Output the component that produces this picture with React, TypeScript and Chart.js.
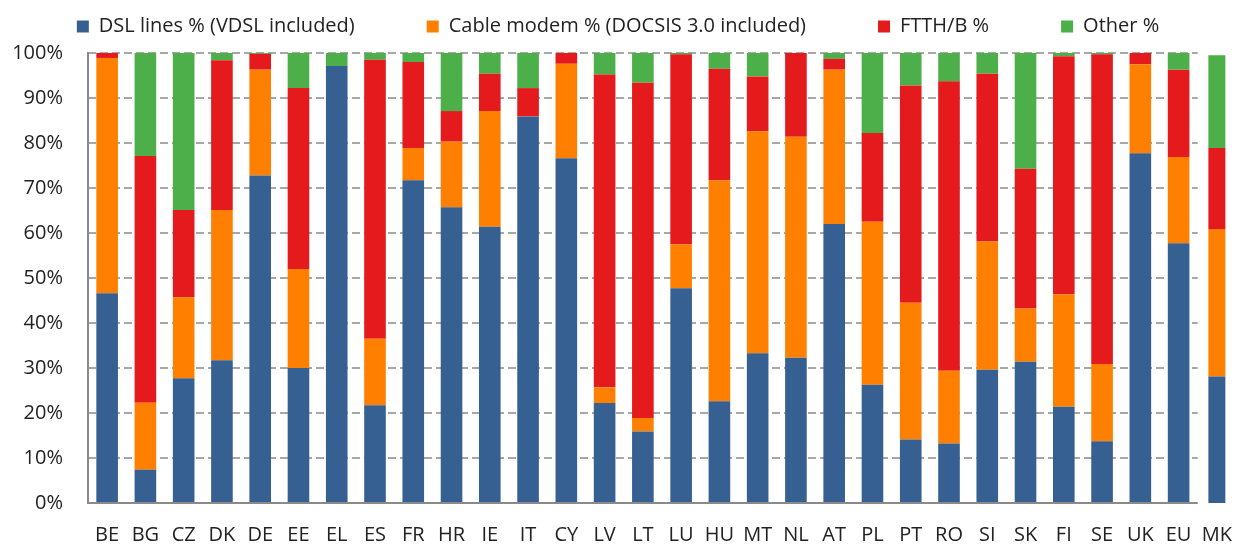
import React, { useEffect, useRef } from "react";
import { Chart, registerables } from "chart.js";

Chart.register(...registerables);

const categories = ["BE","BG","CZ","DK","DE","EE","EL","ES","FR","HR","IE","IT","CY","LV","LT","LU","HU","MT","NL","AT","PL","PT","RO","SI","SK","FI","SE","UK","EU","MK"];
const dslLines = [46.6,7.4,27.7,31.7,72.8,30.0,97.1,21.7,71.7,65.7,61.4,85.9,76.6,22.2,15.9,47.7,22.6,33.3,32.3,62.0,26.3,14.1,13.2,29.6,31.4,21.4,13.7,77.7,57.7,28.1];
const cableModem = [52.3,14.9,18.0,33.4,23.5,22.0,0,14.8,7.2,14.6,25.7,0,21.0,3.5,3.0,9.8,49.1,49.3,49.1,34.3,36.2,30.4,16.2,28.5,11.8,25.0,17.2,19.8,19.2,32.8];
const ftthB = [1.1,54.8,19.4,33.3,3.5,40.2,0,62.0,19.1,6.8,8.3,6.3,2.4,69.5,74.5,42.2,24.8,12.2,18.6,2.4,19.7,48.3,64.3,37.3,31.1,52.9,68.8,2.5,19.4,18.0];
const other = [0,22.9,34.9,1.6,0.2,7.8,2.9,1.5,2.0,12.9,4.6,7.8,0,4.8,6.6,0.3,3.5,5.2,0,1.3,17.8,7.2,6.3,4.6,25.7,0.7,0.3,0,3.7,20.6];
const seriesLabels = ["DSL lines % (VDSL included)", "Cable modem % (DOCSIS 3.0 included)", "FTTH/B %", "Other %"];
const seriesColors = ["#376092", "#ff8000", "#e41a1c", "#4daf4a"];
const yTickValues = [0, 10, 20, 30, 40, 50, 60, 70, 80, 90, 100];

const FONT = "'Open Sans', Lato, sans-serif";
const FONT_SIZE = 20;
const GRID_COLOR = "#8a8a8a";
const LEGEND_PAD = 72;

const customPlugin = {
  id: "customLayout",
  beforeInit(chart: any) {
    const lg = chart.legend;
    if (lg) {
      const origFit = lg.fit;
      lg.fit = function (...args: any[]) {
        origFit.apply(this, args);
        this.height = 53;
      };
      const origDraw = lg.draw;
      lg.draw = function (...args: any[]) {
        const savedTop = this.top;
        this.top = savedTop + 26.5 - (LEGEND_PAD + FONT_SIZE / 2);
        origDraw.apply(this, args);
        this.top = savedTop;
      };
    }
  },
  afterDatasetsUpdate(chart: any) {
    const last = categories.length - 1;
    chart.data.datasets.forEach((_: any, i: number) => {
      const meta = chart.getDatasetMeta(i);
      const el = meta.data[last];
      if (el) el.width = 17;
    });
  },
  beforeDatasetsDraw(chart: any) {
    const { ctx, chartArea, scales } = chart;
    const x = scales.x;
    const y = scales.y;
    const xEnd = x.getPixelForValue(categories.length - 1.5);
    ctx.save();
    ctx.strokeStyle = GRID_COLOR;
    ctx.lineWidth = 1.6;
    ctx.setLineDash([8, 4]);
    yTickValues.forEach((v) => {
      if (v === 0) return;
      const py = y.getPixelForValue(v);
      ctx.beginPath();
      ctx.moveTo(chartArea.left, py);
      ctx.lineTo(xEnd, py);
      ctx.stroke();
    });
    ctx.restore();
  },
  afterDatasetsDraw(chart: any) {
    const { ctx, chartArea, scales } = chart;
    const x = scales.x;
    const xEnd = x.getPixelForValue(categories.length - 1.5);
    ctx.save();
    ctx.strokeStyle = GRID_COLOR;
    ctx.lineWidth = 2;
    ctx.beginPath();
    ctx.moveTo(chartArea.left - 1, chartArea.bottom);
    ctx.lineTo(xEnd, chartArea.bottom);
    ctx.stroke();
    ctx.restore();
  },
};

export default function App() {
  const ref = useRef<HTMLCanvasElement>(null);
  useEffect(() => {
    const series = [dslLines, cableModem, ftthB, other];
    const chart = new Chart(ref.current as HTMLCanvasElement, {
      type: "bar",
      data: {
        labels: categories,
        datasets: series.map((d, i) => ({
          label: seriesLabels[i],
          data: d,
          backgroundColor: seriesColors[i],
          borderWidth: 0,
          barPercentage: 0.565,
          categoryPercentage: 1,
        })),
      },
      options: {
        animation: false,
        responsive: true,
        maintainAspectRatio: false,
        events: [],
        layout: { padding: 0 },
        plugins: {
          tooltip: { enabled: false },
          legend: {
            position: "top",
            labels: {
              boxWidth: 12,
              boxHeight: 12,
              padding: LEGEND_PAD,
              color: "#222",
              font: { family: FONT, size: FONT_SIZE },
            },
          },
        },
        scales: {
          x: {
            stacked: true,
            grid: { display: false, drawTicks: false },
            border: { display: false },
            ticks: {
              autoSkip: false,
              maxRotation: 0,
              padding: 20,
              color: "#222",
              font: { family: FONT, size: FONT_SIZE },
            },
            afterFit(scale: any) {
              scale.height = 42;
              scale.paddingLeft = 0;
              scale.paddingRight = 0;
            },
          },
          y: {
            stacked: true,
            min: 0,
            max: 100,
            grid: { display: false, drawTicks: false },
            border: { display: true, color: GRID_COLOR, width: 2 },
            afterBuildTicks(scale: any) {
              scale.ticks = yTickValues.map((v) => ({ value: v }));
            },
            ticks: {
              padding: 25,
              color: "#222",
              font: { family: FONT, size: FONT_SIZE },
              callback: (v: any) => v + "%",
            },
            afterFit(scale: any) {
              scale.width = 88;
              scale.paddingTop = 0;
              scale.paddingBottom = 0;
            },
          },
        },
      },
      plugins: [customPlugin],
    });
    return () => chart.destroy();
  }, []);
  return (
    <div style={{ position: "fixed", left: 0, top: 0, width: 1236, height: 545, background: "#fff" }}>
      <canvas ref={ref} />
    </div>
  );
}
